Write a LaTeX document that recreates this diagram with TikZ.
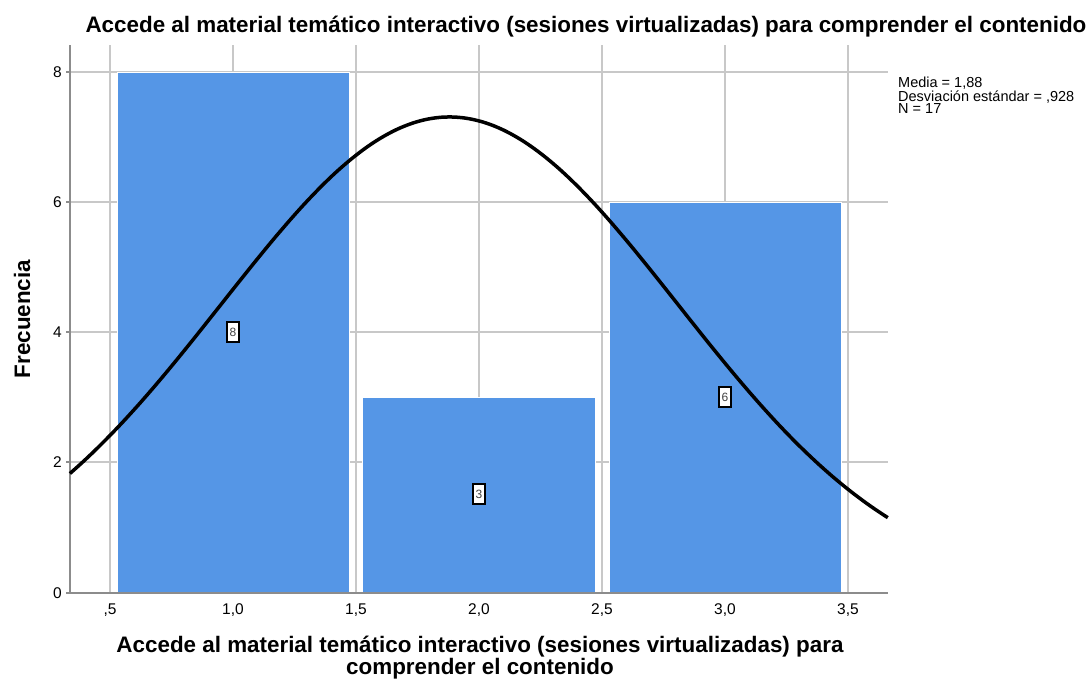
\documentclass[tikz,border=0pt]{standalone}
\usepackage{fontspec}
\setmainfont{Liberation Sans}
\definecolor{barblue}{HTML}{5596E6}
\definecolor{gridgray}{HTML}{C8C8C8}
\definecolor{axisgray}{HTML}{8C8C8C}
\tikzset{
  grid line/.style={gridgray, line width=1.2pt},
  axis line/.style={axisgray, line width=1.6pt},
  bar/.style={fill=barblue, draw=white, line width=1pt},
  ticklab/.style={font=\fontsize{15.5}{17}\selectfont, inner sep=0pt},
  bold lab/.style={font=\fontsize{22.4}{24}\selectfont\bfseries, inner sep=0pt},
  count box/.style={draw=black, fill=white, line width=1.2pt, text=black!75, font=\fontsize{12}{13}\selectfont, inner xsep=1.5pt, inner ysep=2pt, minimum width=12pt, minimum height=20pt},
  curve/.style={black, line width=3.5pt},
}
\begin{document}
\begin{tikzpicture}[x=1pt,y=-1pt]
\useasboundingbox (0,0) rectangle (1091,680);
% grid
\foreach \gx in {110,233,356,479,602,725,848} \draw[grid line] (\gx,45) -- (\gx,593);
\foreach \gy in {72,202,332,462} \draw[grid line] (70,\gy) -- (888,\gy);
% bars
\fill[bar] (117,72) rectangle (349,593);
\fill[bar] (362,397) rectangle (595,593);
\fill[bar] (609,202) rectangle (841,593);
% axes
\coordinate (o) at (70,593);
\coordinate (top) at (70,45);
\coordinate (xend) at (888,593);
\draw[axis line] (top) -- (o) -- (xend);
\foreach \gy in {72,202,332,462,593} \draw[axis line] (66,\gy) -- (70,\gy);
% y tick labels
\node[ticklab, anchor=east] (y0) at (62,593) {0};
\node[ticklab, anchor=east] (y2) at (62,462) {2};
\node[ticklab, anchor=east] (y4) at (62,332) {4};
\node[ticklab, anchor=east] (y6) at (62,202) {6};
\node[ticklab, anchor=east] (y8) at (62,72) {8};
% x tick labels
\node[ticklab] (x05) at (110,610) {,5};
\node[ticklab] (x10) at (233,610) {1,0};
\node[ticklab] (x15) at (356,610) {1,5};
\node[ticklab] (x20) at (479,610) {2,0};
\node[ticklab] (x25) at (602,610) {2,5};
\node[ticklab] (x30) at (725,610) {3,0};
\node[ticklab] (x35) at (848,610) {3,5};
% curve
\draw[curve, domain=0.337:3.663, samples=120, smooth]
  plot ({110+(\x-0.5)*246},{593-65.125*7.3083*exp(-0.5*((\x-1.88)/0.928)^2)});
% count labels
\node[count box] (c8) at (233,332) {8};
\node[count box] (c3) at (479,494) {3};
\node[count box] (c6) at (725,397) {6};
% titles
\node[bold lab] (title) at (586,27) {Accede al material temático interactivo (sesiones virtualizadas) para comprender el contenido};
\node[bold lab, rotate=90] (ylab) at (22,319) {Frecuencia};
\node[bold lab, align=center, font=\fontsize{22.4}{19}\selectfont\bfseries] (xlab) at (480,658) {Accede al material temático interactivo (sesiones virtualizadas) para\\comprender el contenido};
% legend
\node[anchor=north west, align=left, inner sep=0pt, font=\fontsize{14.5}{12.5}\selectfont] (legend) at (898,77) {Media = 1,88\\Desviación estándar = ,928\\N = 17};
\end{tikzpicture}
\end{document}
